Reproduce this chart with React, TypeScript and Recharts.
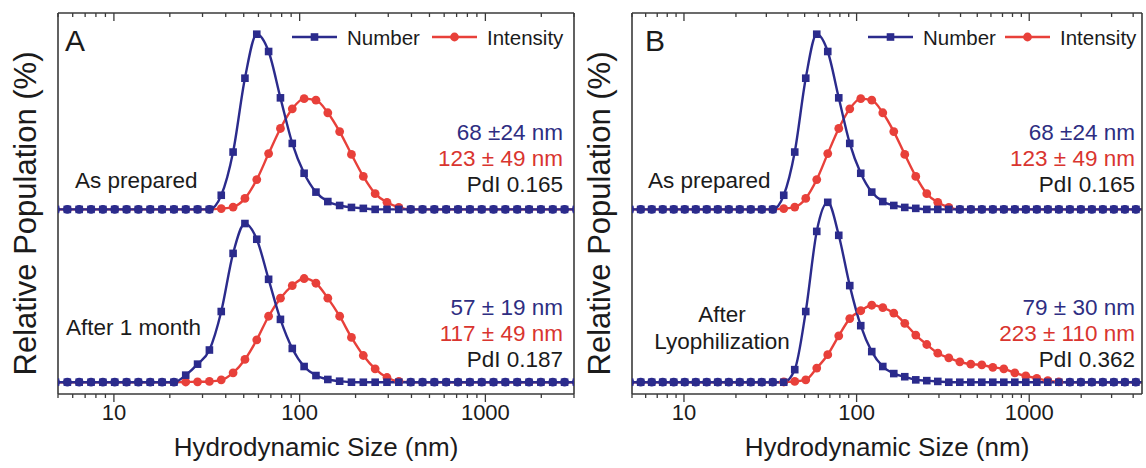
import React from "react";
import { Line, LineChart, XAxis, YAxis } from "recharts";

// Malvern size classes (nm)
const BINS = [
  4.849, 5.615, 6.503, 7.531, 8.721, 10.1, 11.7, 13.54, 15.69, 18.17, 21.04, 24.36,
  28.21, 32.67, 37.84, 43.82, 50.75, 58.77, 68.06, 78.82, 91.28, 105.7, 122.4, 141.8,
  164.2, 190.1, 220.2, 255, 295.3, 342, 396.1, 458.7, 531.2, 615.1, 712.4, 825,
  955.4, 1106, 1281, 1484, 1718, 1990, 2305, 2669, 3091, 3580, 4145, 4801,
];

// relative population (%), one value per bin
const AS_PREPARED_NUMBER = [
  0, 0, 0, 0, 0, 0, 0, 0, 0, 0, 0, 0, 0, 0,
  1.8, 7.3, 16.7, 22.3, 20.1, 14.2, 8.4, 4.6, 2.2, 1.0, 0.5, 0.25, 0.13,
  0, 0, 0, 0, 0, 0, 0, 0, 0, 0, 0, 0, 0, 0, 0, 0, 0, 0, 0, 0, 0,
];
const AS_PREPARED_INTENSITY = [
  0, 0, 0, 0, 0, 0, 0, 0, 0, 0, 0, 0, 0, 0,
  0.1, 0.3, 1.4, 3.8, 7.1, 10.3, 12.8, 14.1, 13.9, 12.3, 9.9, 7.0, 4.2, 2.0, 0.9, 0.25,
  0, 0, 0, 0, 0, 0, 0, 0, 0, 0, 0, 0, 0, 0, 0, 0, 0, 0,
];
const MONTH_NUMBER = [
  0, 0, 0, 0, 0, 0, 0, 0, 0, 0, 0,
  0.9, 2.3, 4.1, 9.0, 16.4, 20.2, 18.2, 13.1, 8.0, 4.3, 2.0, 0.85, 0.35, 0.13,
  0, 0, 0, 0, 0, 0, 0, 0, 0, 0, 0, 0, 0, 0, 0, 0, 0, 0, 0, 0, 0, 0, 0,
];
const MONTH_INTENSITY = [
  0, 0, 0, 0, 0, 0, 0, 0, 0, 0, 0,
  0.03, 0.05, 0.1, 0.3, 1.2, 2.9, 5.4, 8.4, 10.7, 12.3, 13.2, 12.6, 10.7, 8.4, 5.7, 3.4, 1.7, 0.6, 0.1,
  0, 0, 0, 0, 0, 0, 0, 0, 0, 0, 0, 0, 0, 0, 0, 0, 0, 0,
];
const LYO_NUMBER = [
  0, 0, 0, 0, 0, 0, 0, 0, 0, 0, 0, 0, 0, 0, 0,
  1.6, 9.0, 19.2, 22.9, 18.7, 12.3, 7.2, 3.9, 2.0, 1.1, 0.7, 0.3, 0.2, 0.1,
  0, 0, 0, 0, 0, 0, 0, 0, 0, 0, 0, 0, 0, 0, 0, 0, 0, 0, 0,
];
const LYO_INTENSITY = [
  0, 0, 0, 0, 0, 0, 0, 0, 0, 0, 0, 0, 0, 0,
  0.03, 0.1, 0.3, 1.8, 3.5, 5.9, 8.1, 9.1, 9.8, 9.5, 8.8, 7.5, 6.0, 4.8, 3.7, 3.1,
  2.6, 2.3, 2.2, 1.9, 1.7, 1.2, 0.8, 0.5, 0.2, 0.05,
  0, 0, 0, 0, 0, 0, 0, 0,
];

const MAJOR_TICKS = [10, 100, 1000];
const MINOR_TICKS_A = [5, 6, 7, 8, 9, 20, 30, 40, 50, 60, 70, 80, 90, 200, 300, 400, 500, 600, 700, 800, 900, 2000, 3000];
const MINOR_TICKS_B = [...MINOR_TICKS_A, 4000];

const OFFSET = 22; // vertical shift of the upper ("as prepared") curves
const Y_DOMAIN = [-1.5, 47];

const NAVY = "#2b2b8c";
const RED = "#e8403a";
const NAVY_TEXT = "#2e2e82";
const RED_TEXT = "#d9352f";
const INK = "#1b1b1b";
const FRAME = "#3a3a3a";
const FONT = "'Liberation Sans', Arial, sans-serif";

const buildRows = (maxSize: number, topNum: number[], topInt: number[], botNum: number[], botInt: number[]) =>
  BINS.map((size, i) => ({
    size,
    topNum: topNum[i],
    topInt: topInt[i],
    botNum: botNum[i],
    botInt: botInt[i],
  })).filter((r) => r.size <= maxSize);

const rowsA = buildRows(3100, AS_PREPARED_NUMBER, AS_PREPARED_INTENSITY, MONTH_NUMBER, MONTH_INTENSITY);
const rowsB = buildRows(4900, AS_PREPARED_NUMBER, AS_PREPARED_INTENSITY, LYO_NUMBER, LYO_INTENSITY);

const BottomTick = (p: any) => {
  const v = p.payload.value;
  const major = MAJOR_TICKS.includes(v);
  return (
    <g>
      <line x1={p.x} x2={p.x} y1={p.y} y2={p.y + (major ? 8 : 4)} stroke={FRAME} strokeWidth={1.3} />
      {major && (
        <text x={p.x} y={p.y + 26} textAnchor="middle" fontSize={22} fill={INK}>
          {v}
        </text>
      )}
    </g>
  );
};

const TopTick = (p: any) => {
  const major = MAJOR_TICKS.includes(p.payload.value);
  return <line x1={p.x} x2={p.x} y1={p.y} y2={p.y + (major ? 8 : 4)} stroke={FRAME} strokeWidth={1.3} />;
};

const XTitle = (p: any) => {
  const vb = p.viewBox || {};
  return (
    <text x={vb.x + vb.width / 2} y={vb.y + 62} textAnchor="middle" fontSize={26} fill={INK}>
      Hydrodynamic Size (nm)
    </text>
  );
};

const YTitle = (p: any) => {
  const vb = p.viewBox || {};
  const x = vb.x + vb.width - 22;
  const y = vb.y + vb.height / 2 + 10;
  return (
    <text x={x} y={y} transform={`rotate(-90, ${x}, ${y})`} textAnchor="middle" fontSize={31} fill={INK}>
      Relative Population (%)
    </text>
  );
};

const squareDot = (p: any) => {
  if (p.cx == null || p.cy == null) return <g key={`s${p.index}`} />;
  return <rect key={`s${p.index}`} x={p.cx - 3.8} y={p.cy - 3.8} width={7.6} height={7.6} fill={NAVY} />;
};

const circleDot = (field: string) => (p: any) => {
  if (p.cx == null || p.cy == null) return <g key={`c${p.index}`} />;
  const raw = p.payload[field];
  return <circle key={`c${p.index}`} cx={p.cx} cy={p.cy} r={4.4} fill={raw === 0 ? NAVY : RED} />;
};

const frameLine = { stroke: FRAME, strokeWidth: 1.6 };

interface PanelProps {
  rows: any[];
  domain: [number, number];
  minorTicks: number[];
  left: number;
  width: number;
  marginLeft: number;
  marginRight: number;
}

const DistPanel = ({ rows, domain, minorTicks, left, width, marginLeft, marginRight }: PanelProps) => {
  const ticks = [...minorTicks, ...MAJOR_TICKS].sort((a, b) => a - b);
  const common = {
    dataKey: "size",
    type: "number" as const,
    scale: "log" as const,
    domain,
    allowDataOverflow: true,
    ticks,
    interval: 0 as const,
    tickSize: 0,
    tickMargin: 0,
    tickLine: false,
    axisLine: frameLine,
  };
  return (
    <div style={{ position: "absolute", left, top: 0 }}>
      <LineChart
        width={width}
        height={468}
        data={rows}
        margin={{ top: 12, right: marginRight, bottom: 14, left: marginLeft }}
      >
        <XAxis xAxisId="b" {...common} tick={BottomTick} height={60} label={<XTitle />} />
        <XAxis xAxisId="t" orientation="top" {...common} tick={TopTick} height={1} />
        <YAxis
          yAxisId="l"
          type="number"
          domain={Y_DOMAIN}
          allowDataOverflow
          width={1}
          tick={false}
          tickLine={false}
          axisLine={frameLine}
          label={<YTitle />}
        />
        <YAxis
          yAxisId="r"
          orientation="right"
          type="number"
          domain={Y_DOMAIN}
          allowDataOverflow
          width={1}
          tick={false}
          tickLine={false}
          axisLine={frameLine}
        />
        <Line
          xAxisId="b"
          yAxisId="l"
          type="monotone"
          dataKey={(d: any) => d.botInt}
          stroke={RED}
          strokeWidth={2.4}
          dot={circleDot("botInt")}
          activeDot={false}
          isAnimationActive={false}
        />
        <Line
          xAxisId="b"
          yAxisId="l"
          type="monotone"
          dataKey={(d: any) => d.botNum}
          stroke={NAVY}
          strokeWidth={2.4}
          dot={squareDot}
          activeDot={false}
          isAnimationActive={false}
        />
        <Line
          xAxisId="b"
          yAxisId="l"
          type="monotone"
          dataKey={(d: any) => d.topInt + OFFSET}
          stroke={RED}
          strokeWidth={2.4}
          dot={circleDot("topInt")}
          activeDot={false}
          isAnimationActive={false}
        />
        <Line
          xAxisId="b"
          yAxisId="l"
          type="monotone"
          dataKey={(d: any) => d.topNum + OFFSET}
          stroke={NAVY}
          strokeWidth={2.4}
          dot={squareDot}
          activeDot={false}
          isAnimationActive={false}
        />
      </LineChart>
    </div>
  );
};

const LegendKey = ({ x, y, color, shape, label }: any) => (
  <g>
    <line x1={x} x2={x + 45} y1={y} y2={y} stroke={color} strokeWidth={2.4} />
    {shape === "square" ? (
      <rect x={x + 18.7} y={y - 3.8} width={7.6} height={7.6} fill={color} />
    ) : (
      <circle cx={x + 22.5} cy={y} r={4.4} fill={color} />
    )}
    <text x={x + 55} y={y + 8} fontSize={20.5} fill={INK}>
      {label}
    </text>
  </g>
);

const Note = ({ x, y, children, fill = INK, anchor = "end" }: any) => (
  <text x={x} y={y} textAnchor={anchor} fontSize={22.5} fill={fill}>
    {children}
  </text>
);

export default function App() {
  return (
    <div
      style={{
        position: "absolute",
        left: 0,
        top: 0,
        width: 1146,
        height: 468,
        background: "#fff",
        fontFamily: FONT,
        overflow: "hidden",
      }}
    >
      <DistPanel rows={rowsA} domain={[5, 3000]} minorTicks={MINOR_TICKS_A} left={0} width={580} marginLeft={57} marginRight={5} />
      <DistPanel rows={rowsB} domain={[5, 4500]} minorTicks={MINOR_TICKS_B} left={580} width={566} marginLeft={51} marginRight={3} />
      <svg
        width={1146}
        height={468}
        style={{ position: "absolute", left: 0, top: 0, pointerEvents: "none", fontFamily: FONT }}
      >
        {/* panel A */}
        <text x={65} y={51} fontSize={30} fill={INK}>A</text>
        <LegendKey x={292} y={37} color={NAVY} shape="square" label="Number" />
        <LegendKey x={432} y={37} color={RED} shape="circle" label="Intensity" />
        <Note x={563} y={140} fill={NAVY_TEXT}>68 ±24 nm</Note>
        <Note x={563} y={166} fill={RED_TEXT}>123 ± 49 nm</Note>
        <Note x={563} y={192}>PdI 0.165</Note>
        <Note x={75} y={188} anchor="start">As prepared</Note>
        <Note x={563} y={315} fill={NAVY_TEXT}>57 ± 19 nm</Note>
        <Note x={563} y={341} fill={RED_TEXT}>117 ± 49 nm</Note>
        <Note x={563} y={367}>PdI 0.187</Note>
        <Note x={66} y={335} anchor="start">After 1 month</Note>
        {/* panel B */}
        <text x={645} y={51} fontSize={30} fill={INK}>B</text>
        <LegendKey x={868} y={37} color={NAVY} shape="square" label="Number" />
        <LegendKey x={1005} y={37} color={RED} shape="circle" label="Intensity" />
        <Note x={1135} y={140} fill={NAVY_TEXT}>68 ±24 nm</Note>
        <Note x={1135} y={166} fill={RED_TEXT}>123 ± 49 nm</Note>
        <Note x={1135} y={192}>PdI 0.165</Note>
        <Note x={648} y={188} anchor="start">As prepared</Note>
        <Note x={1135} y={315} fill={NAVY_TEXT}>79 ± 30 nm</Note>
        <Note x={1135} y={341} fill={RED_TEXT}>223 ± 110 nm</Note>
        <Note x={1135} y={367}>PdI 0.362</Note>
        <Note x={722} y={322} anchor="middle">After</Note>
        <Note x={722} y={349} anchor="middle">Lyophilization</Note>
      </svg>
    </div>
  );
}
